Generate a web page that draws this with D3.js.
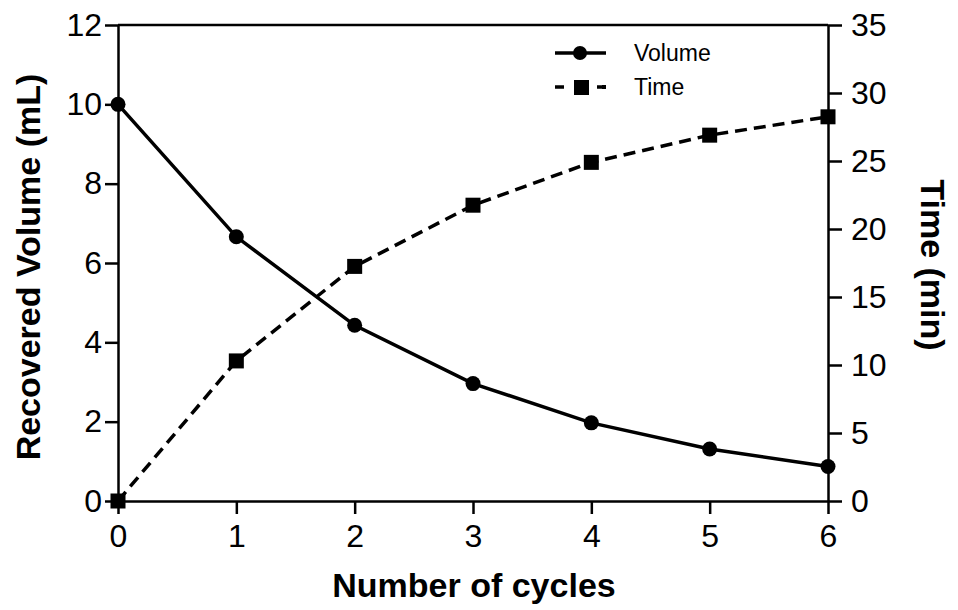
<!DOCTYPE html>
<html>
<head>
<meta charset="utf-8">
<script src="https://cdn.jsdelivr.net/npm/d3@7"></script>
<style>
  html, body { margin: 0; padding: 0; background: #fff; }
  svg { display: block; font-family: "Liberation Sans", Arial, sans-serif; }
</style>
</head>
<body>
<svg id="chart" width="958" height="610"></svg>
<script>
// Recovered volume and cumulative time per extraction cycle
const cycles = [0, 1, 2, 3, 4, 5, 6];
const volume = [10, 6.66, 4.43, 2.96, 1.97, 1.31, 0.87];
const time = [0, 10.3, 17.25, 21.75, 24.9, 26.9, 28.25];
const leftTicks = [0, 2, 4, 6, 8, 10, 12];
const rightTicks = [0, 5, 10, 15, 20, 25, 30, 35];
const xTicks = [0, 1, 2, 3, 4, 5, 6];

const svg = d3.select("#chart");
const m = { left: 118, right: 828, top: 25, bottom: 501 };

const x = d3.scaleLinear().domain([0, 6]).range([m.left, m.right]);
const yL = d3.scaleLinear().domain([0, 12]).range([m.bottom, m.top]);
const yR = d3.scaleLinear().domain([0, 35]).range([m.bottom, m.top]);

function styleAxis(g) {
  g.selectAll("path.domain").attr("stroke", "#000").attr("stroke-width", 2.5);
  g.selectAll(".tick line").attr("stroke", "#000").attr("stroke-width", 2.5);
  g.selectAll(".tick text").attr("fill", "#000")
    .style("font-family", "'Liberation Sans', Arial, sans-serif")
    .style("font-size", "32px");
}

// Top frame line
svg.append("line")
  .attr("x1", m.left).attr("x2", m.right)
  .attr("y1", m.top).attr("y2", m.top)
  .attr("stroke", "#000").attr("stroke-width", 2.5);

svg.append("g")
  .attr("transform", `translate(0,${m.bottom})`)
  .call(d3.axisBottom(x).tickValues(xTicks).tickFormat(d3.format("d"))
    .tickSize(13).tickSizeOuter(0).tickPadding(10))
  .call(styleAxis);

svg.append("g")
  .attr("transform", `translate(${m.left},0)`)
  .call(d3.axisLeft(yL).tickValues(leftTicks).tickFormat(d3.format("d"))
    .tickSize(13).tickSizeOuter(0).tickPadding(3))
  .call(styleAxis);

svg.append("g")
  .attr("transform", `translate(${m.right},0)`)
  .call(d3.axisRight(yR).tickValues(rightTicks).tickFormat(d3.format("d"))
    .tickSize(14).tickSizeOuter(0).tickPadding(9))
  .call(styleAxis);

// Axis titles
svg.append("text")
  .attr("x", (m.left + m.right) / 2 + 1).attr("y", 597)
  .attr("text-anchor", "middle")
  .style("font-size", "34px").style("font-weight", "bold")
  .text("Number of cycles");

svg.append("text")
  .attr("transform", `translate(40,${(m.top + m.bottom) / 2 + 4}) rotate(-90)`)
  .attr("text-anchor", "middle")
  .style("font-size", "34px").style("font-weight", "bold")
  .text("Recovered Volume (mL)");

svg.append("text")
  .attr("transform", `translate(921,${(m.top + m.bottom) / 2 + 2}) rotate(90)`)
  .attr("text-anchor", "middle")
  .style("font-size", "34px").style("font-weight", "bold")
  .text("Time (min)");

// Series
const volData = cycles.map((c, i) => [c, volume[i]]);
const timeData = cycles.map((c, i) => [c, time[i]]);

svg.append("path")
  .datum(timeData)
  .attr("fill", "none").attr("stroke", "#000")
  .attr("stroke-width", 3.5).attr("stroke-dasharray", "12,7")
  .attr("d", d3.line().x(d => x(d[0])).y(d => yR(d[1])));

svg.append("path")
  .datum(volData)
  .attr("fill", "none").attr("stroke", "#000").attr("stroke-width", 3.5)
  .attr("d", d3.line().x(d => x(d[0])).y(d => yL(d[1])));

svg.selectAll("rect.tm").data(timeData).enter().append("rect")
  .attr("class", "tm")
  .attr("x", d => x(d[0]) - 7.5).attr("y", d => yR(d[1]) - 7.5)
  .attr("width", 15).attr("height", 15).attr("fill", "#000");

svg.selectAll("circle.vol").data(volData).enter().append("circle")
  .attr("class", "vol")
  .attr("cx", d => x(d[0])).attr("cy", d => yL(d[1]))
  .attr("r", 7.5).attr("fill", "#000");

// Legend
const lg = svg.append("g");
lg.append("line").attr("x1", 555).attr("x2", 606).attr("y1", 53).attr("y2", 53)
  .attr("stroke", "#000").attr("stroke-width", 3.5);
lg.append("circle").attr("cx", 580).attr("cy", 53).attr("r", 7).attr("fill", "#000");
lg.append("text").attr("x", 634).attr("y", 61)
  .style("font-size", "23px").text("Volume");

lg.append("line").attr("x1", 555).attr("x2", 606).attr("y1", 87).attr("y2", 87)
  .attr("stroke", "#000").attr("stroke-width", 3.5).attr("stroke-dasharray", "9,12,0,0");
lg.append("rect").attr("x", 574).attr("y", 80).attr("width", 15).attr("height", 15).attr("fill", "#000");
lg.append("rect").attr("x", 602).attr("y", 85).attr("width", 4).attr("height", 4).attr("fill", "#000");
lg.append("text").attr("x", 634).attr("y", 95)
  .style("font-size", "23px").text("Time");
</script>
</body>
</html>
